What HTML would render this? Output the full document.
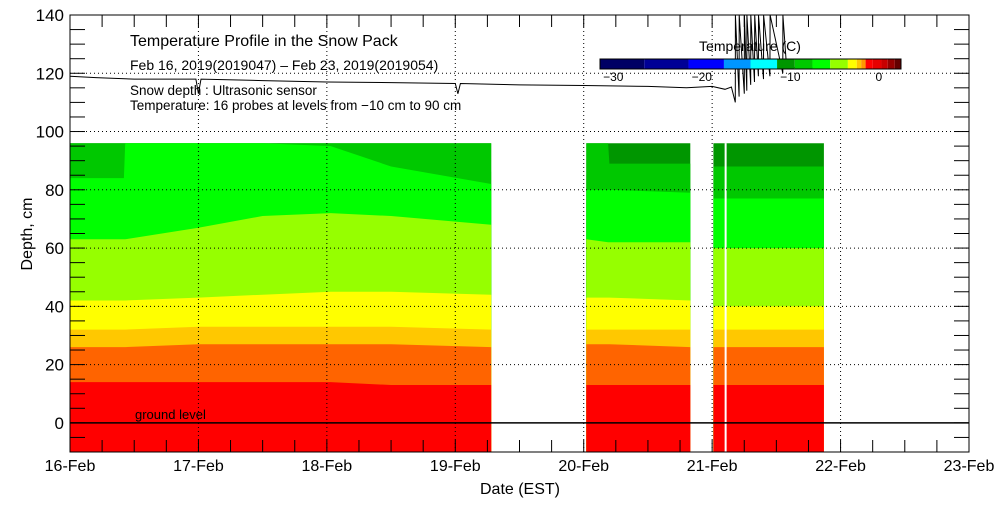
<!DOCTYPE html>
<html><head><meta charset="utf-8"><style>
body{margin:0;background:#fff;}
svg text{font-family:"Liberation Sans",sans-serif;fill:#000;}
</style></head><body>
<svg id="c" width="1000" height="500" xmlns="http://www.w3.org/2000/svg"></svg>
<script>
const dayLabels=["16-Feb","17-Feb","18-Feb","19-Feb","20-Feb","21-Feb","22-Feb","23-Feb"];
const yTicks=[0,20,40,60,80,100,120,140];
const bandColors=["#ff0000","#ff6400","#ffc800","#ffff00","#96ff00","#00ff00","#00c800","#009600"];
// rows: [day offset, upper edge depth of each band 1..7]
const seg1Bounds=[
 [0,14,26,32,42,63,84,96],[0.42,14,26,32,42,63,84,96],[0.43,14,26,32,42,63,96,96],[1,14,27,33,43,67,96,96],
 [1.5,14,27,33,44,71,96,96],[2.03,14,27,33,45,72,95,96],[2.5,13,27,33,45,71,88,96],
 [3.28,13,26,32,44,68,82,96]];
const seg2Bounds=[[4.02,13,27,32,43,63,80,96],[4.19,13,27,32,43,62,80,96],[4.2,13,27,32,43,62,80,89],[4.83,13,26,32,42,62,79,89]];
const seg3Bounds=[[5.01,13,26,32,40,60,77,88],[5.2,13,26,32,40,60,77,88],[5.87,13,26,32,40,60,77,88]];
const snowT=[0,0.2,0.5,0.98,1.0,1.02,1.5,2,2.5,3,3.02,3.04,3.5,4,4.5,4.8,5,5.1,5.15,5.18,5.181,5.21,5.211,5.25,5.251,5.27,5.271,5.3,5.301,5.33,5.331,5.36,5.361,5.4,5.401,5.45,5.451,5.55,5.551,5.58,5.6,5.7,5.8];
const snowV=[119,118.5,118,118,113,118,117.5,117,116.8,116.5,113,116.5,116,115.8,115.5,115,115.5,114.5,115.3,110,140,112,140,113,140,114,140,116,140,117,140,119,140,118,140,119,140,120,140,122,122,122,122];
const cbarColors=["#000064","#000096","#0000ff","#0096ff","#00ffff","#009600","#00c800","#00ff00","#96ff00","#ffff00","#ffc800","#ff9600","#ff0000","#e60000","#c80000","#960000","#640000"];
const cbarStops=[-31.5,-26.5,-21.5,-17.5,-14.5,-11.5,-9.5,-7.5,-5.5,-3.5,-2.5,-2,-1.5,-0.7,0.3,1,1.8,2.5];
const cbarTicks=[-30,-20,-10,0];

const NS="http://www.w3.org/2000/svg",svg=document.getElementById('c');
const X0=70,X1=969,Y0=15,Y1=452,YMIN=-10,YMAX=140;
const xs=d=>X0+d*(X1-X0)/7, ys=v=>Y1-(v-YMIN)*(Y1-Y0)/(YMAX-YMIN);
const cx=v=>600+(v+31.5)*301/34;
function el(t,a,p){const e=document.createElementNS(NS,t);for(const k in a)e.setAttribute(k,a[k]);(p||svg).appendChild(e);return e;}

function drawSeg(b,idx){
 const g=el('g',{});
 
 
 for(let k=bandColors.length-1;k>=0;k--){
  const top=b.map(r=>xs(r[0]).toFixed(1)+','+ys(k==7?96:r[k+1]).toFixed(1));
  const pts=[xs(b[0][0])+','+ys(-10),...top,xs(b[b.length-1][0])+','+ys(-10)];
  const p=el('polygon',{points:pts.join(' '),fill:bandColors[k]},g);
  
  
 }
}
drawSeg(seg1Bounds,1);drawSeg(seg2Bounds,2);drawSeg(seg3Bounds,3);
el('line',{x1:xs(5.105),x2:xs(5.105),y1:ys(96),y2:Y1,stroke:'#fff','stroke-width':2});

for(let d=1;d<7;d++)el('line',{x1:xs(d),x2:xs(d),y1:Y0,y2:Y1,stroke:'#000','stroke-dasharray':'1,3'});
for(const v of [20,40,60,80,100,120])el('line',{x1:X0,x2:X1,y1:ys(v),y2:ys(v),stroke:'#000','stroke-dasharray':'1,3'});
el('line',{x1:X0,x2:X1,y1:ys(0),y2:ys(0),stroke:'#000','stroke-width':1.5});
const gl=el('text',{x:135,y:ys(0)-4,'font-size':13});gl.textContent='ground level';


let d='';
snowT.forEach((t,i)=>{d+=(i?'L':'M')+xs(t).toFixed(1)+','+ys(snowV[i]).toFixed(1);});
const sl=el('path',{d:d,fill:'none',stroke:'#000','stroke-width':1});


el('rect',{x:X0,y:Y0,width:X1-X0,height:Y1-Y0,fill:'none',stroke:'#000'});
for(let v=-10;v<=140;v+=5){const y=ys(v);el('line',{x1:X0,x2:X0+15,y1:y,y2:y,stroke:'#000'});el('line',{x1:X1-15,x2:X1,y1:y,y2:y,stroke:'#000'});}
for(let h=0;h<=28;h++){const x=xs(h/4);el('line',{x1:x,x2:x,y1:Y0,y2:Y0+12,stroke:'#000'});el('line',{x1:x,x2:x,y1:Y1-12,y2:Y1,stroke:'#000'});}
yTicks.forEach(v=>{const t=el('text',{x:X0-6,y:ys(v)+6,'font-size':17,'text-anchor':'end'});t.textContent=v;
 });
dayLabels.forEach((s,i)=>{const t=el('text',{x:xs(i),y:471,'font-size':16,'text-anchor':'middle'});t.textContent=s;
 });
let t=el('text',{x:520,y:494,'font-size':16,'text-anchor':'middle'});t.textContent='Date (EST)';

t=el('text',{x:32,y:234,'font-size':16,'text-anchor':'middle',transform:'rotate(-90 32 234)'});t.textContent='Depth, cm';


[['Temperature Profile in the Snow Pack',130,46,16,'chart-title'],['Feb 16, 2019(2019047) \u2013 Feb 23, 2019(2019054)',130,70,14,'date-range'],
 ['Snow depth : Ultrasonic sensor',130,95,13.5,'snow-depth-note'],['Temperature: 16 probes at levels from \u221210 cm to 90 cm',130,110,13.5,'temperature-note']].forEach(a=>{
 const e=el('text',{x:a[1],y:a[2],'font-size':a[3]});e.textContent=a[0];
 });

const cb=el('g',{});
cbarColors.forEach((c,i)=>el('rect',{x:cx(cbarStops[i]),y:59,width:cx(cbarStops[i+1])-cx(cbarStops[i]),height:10,fill:c},cb));
el('rect',{x:cx(-31.5),y:59,width:cx(2.5)-cx(-31.5),height:10,fill:'none',stroke:'#000'},cb);
cbarTicks.forEach(v=>{const e=el('text',{x:cx(v),y:81,'font-size':12,'text-anchor':'middle'},cb);e.textContent=v==0?'0':'\u2212'+(-v);});
t=el('text',{x:750,y:51,'font-size':14,'text-anchor':'middle'},cb);t.textContent='Temperature (C)';
</script>
</body></html>
